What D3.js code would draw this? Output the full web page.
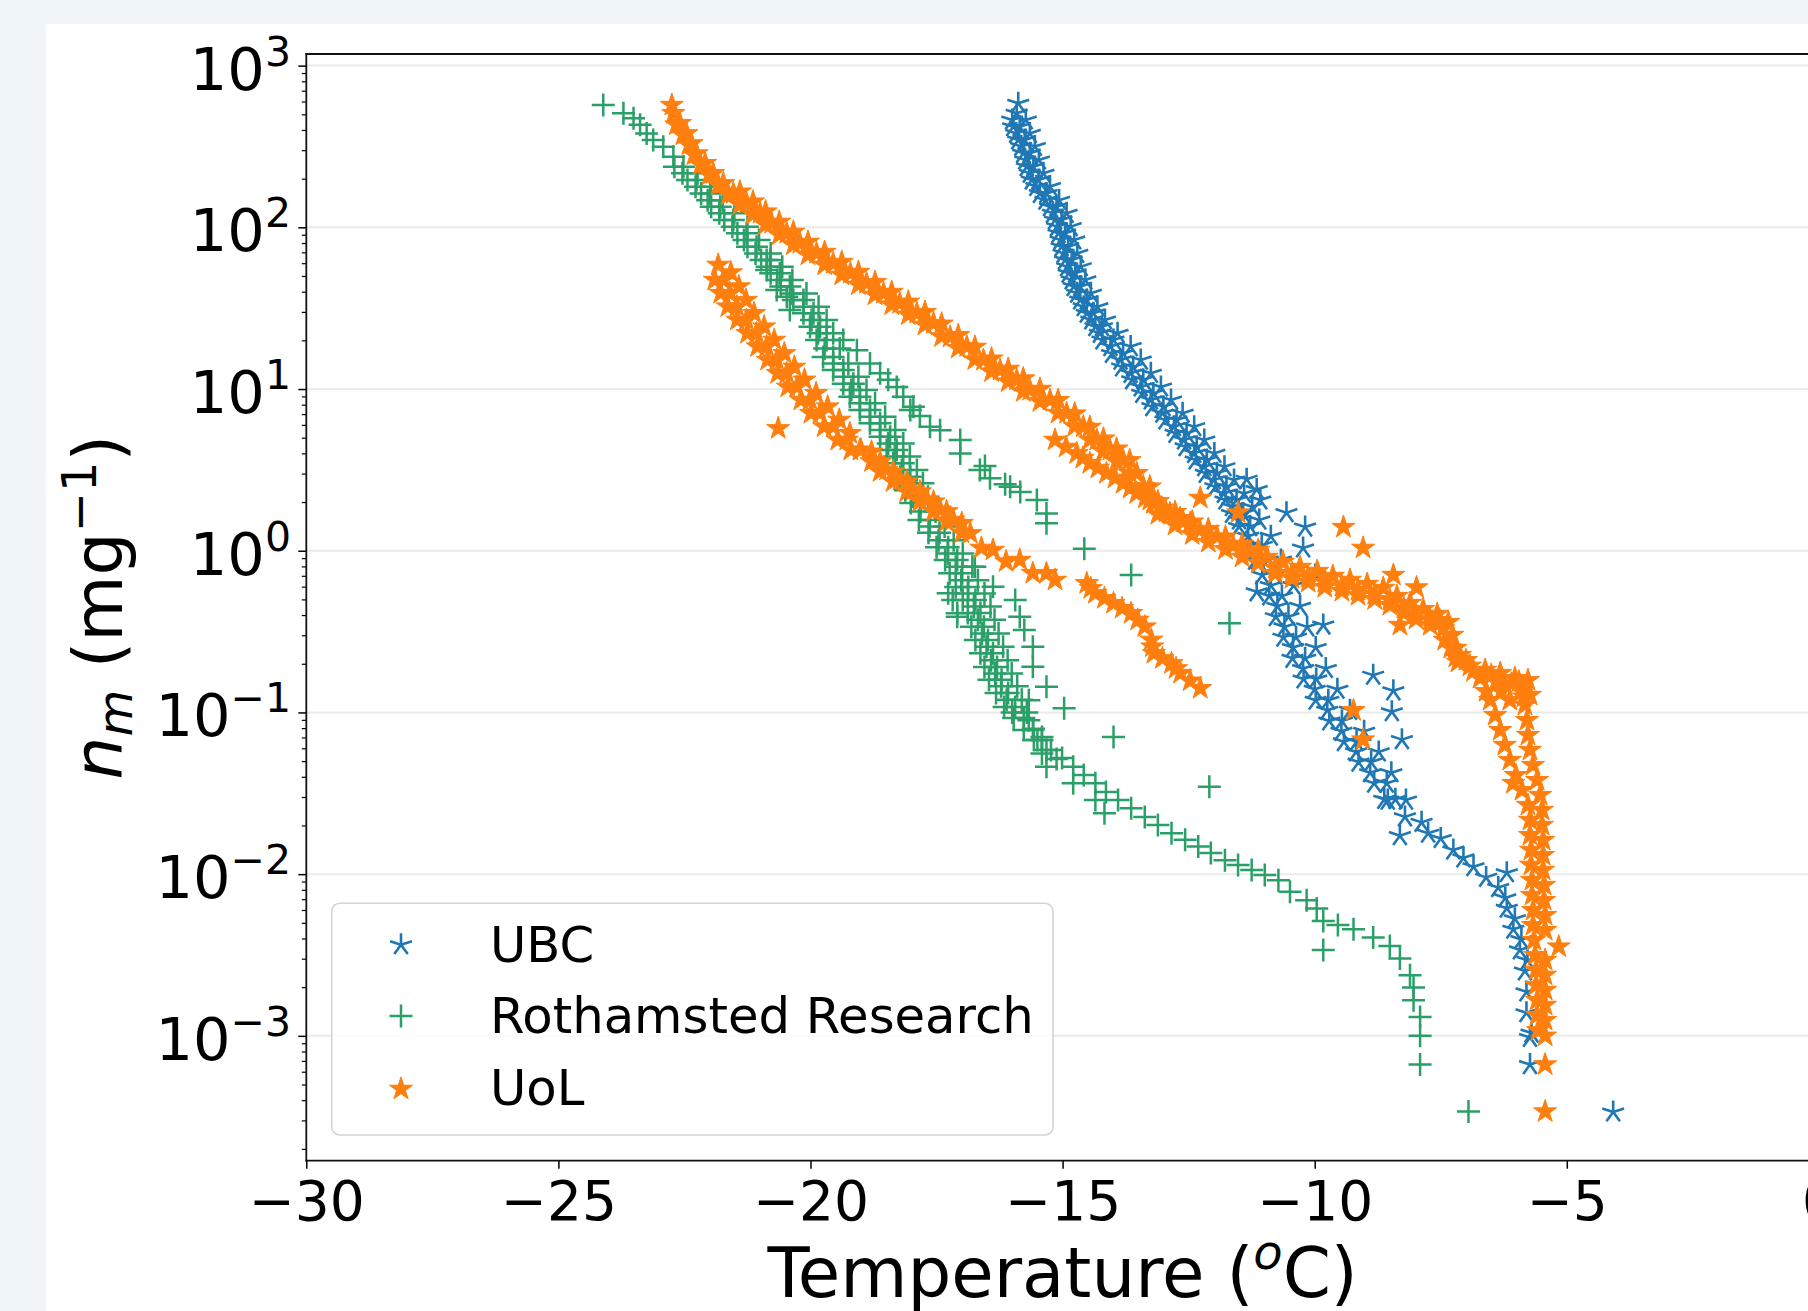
<!DOCTYPE html>
<html>
<head>
<meta charset="utf-8">
<script src="https://cdn.jsdelivr.net/npm/d3@7"></script>
<style>
  html, body { margin: 0; padding: 0; background: #f0f5fa; }
  svg { display: block; }
  text { font-family: "DejaVu Sans", sans-serif; fill: #000; }
</style>
</head>
<body>
<svg id="chart" width="1808" height="1311"></svg>
<script>
// ---- data: [temperature (C), n_m (mg^-1)] ----

// UBC
const ubcRunA = [[-15.88,585],[-15.91,507],[-15.85,419],[-15.75,347],[-15.65,287],[-15.58,237],[-15.48,196],[-15.32,162],[-15.12,134],[-15.02,111],[-14.95,91.8],[-14.89,75.9],[-14.82,62.8],[-14.75,52.0],[-14.65,43.0],[-14.52,35.5],[-14.39,29.4],[-14.22,24.3],[-13.99,20.1],[-13.80,16.6],[-13.60,13.7],[-13.40,11.4],[-13.20,9.40],[-13.00,7.78],[-12.74,6.43],[-12.54,5.32],[-12.34,4.40],[-12.14,3.64],[-11.94,3.01],[-11.75,2.49],[-11.55,2.06],[-11.42,1.70],[-11.28,1.41],[-11.05,1.08],[-10.93,0.875],[-10.79,0.708],[-10.65,0.525],[-10.52,0.391],[-10.37,0.292],[-10.19,0.216],[-9.97,0.161],[-9.73,0.119],[-9.46,0.0885],[-9.17,0.0659],[-8.88,0.0493],[-8.57,0.0365],[-8.40,0.0290],[-8.21,0.0226],[-7.75,0.0179],[-7.25,0.0141],[-6.85,0.0111],[-6.36,0.00826],[-6.19,0.00615],[-6.06,0.00456],[-5.93,0.00340],[-5.83,0.00252],[-5.80,0.00187],[-5.80,0.00139],[-5.70,0.00104],[-5.73,0.000664]];
const ubcRunB = [[-15.73,461],[-15.65,381],[-15.55,316],[-15.47,261],[-15.38,216],[-15.25,179],[-15.07,147],[-14.92,122],[-14.84,101],[-14.77,83.5],[-14.71,69.0],[-14.64,57.1],[-14.55,47.3],[-14.44,39.1],[-14.31,32.3],[-14.16,26.7],[-13.91,22.1],[-13.65,18.3],[-13.45,15.1],[-13.25,12.5],[-13.05,10.3],[-12.85,8.55],[-12.62,7.08],[-12.39,5.85],[-12.19,4.84],[-11.99,4.00],[-11.79,3.31],[-11.60,2.74],[-11.40,2.26],[-11.24,1.87],[-11.10,1.55],[-10.87,1.23],[-10.67,0.875],[-10.42,0.610],[-10.29,0.453],[-10.15,0.338],[-9.98,0.252],[-9.78,0.187],[-9.55,0.139],[-9.30,0.103],[-9.02,0.0764],[-8.73,0.0570],[-8.48,0.0424],[-8.19,0.0287],[-7.88,0.0209],[-7.50,0.0166],[-7.05,0.0126],[-6.60,0.00955],[-6.22,0.00713],[-6.03,0.00530],[-5.90,0.00394],[-5.78,0.00293]];
const ubcRunC = [[-15.98,419],[-15.88,347],[-15.78,287],[-15.71,237],[-15.61,196],[-15.45,162],[-15.25,134],[-15.15,111],[-15.08,91.8],[-15.02,75.9],[-14.95,62.8],[-14.88,52.0],[-14.78,43.0],[-14.65,35.5],[-14.52,29.4],[-14.35,24.3],[-14.21,20.1],[-14.02,16.6],[-13.82,13.7],[-13.62,11.4],[-13.42,9.40],[-13.22,7.78],[-12.96,6.43],[-12.76,5.32],[-12.56,4.40],[-12.36,3.64],[-12.16,3.01],[-11.97,2.49],[-11.77,2.06],[-11.64,1.70],[-11.50,1.41],[-11.30,1.08],[-11.18,0.875],[-11.04,0.708],[-10.90,0.525],[-10.77,0.391],[-10.62,0.292],[-10.44,0.216],[-10.22,0.161],[-9.98,0.119],[-9.71,0.0885],[-9.42,0.0659],[-9.13,0.0493],[-8.82,0.0365],[-8.62,0.0290]];
const ubcRunD = [[-16.00,461],[-15.92,381],[-15.82,316],[-15.74,261],[-15.65,216],[-15.52,179],[-15.34,147],[-15.19,122],[-15.11,101],[-15.04,83.5],[-14.98,69.0],[-14.91,57.1],[-14.82,47.3],[-14.71,39.1],[-14.58,32.3],[-14.43,26.7],[-14.26,22.1],[-14.05,18.3],[-13.85,15.1],[-13.65,12.5],[-13.45,10.3],[-13.25,8.55],[-13.02,7.08],[-12.79,5.85],[-12.59,4.84],[-12.39,4.00],[-12.19,3.31],[-12.00,2.74],[-11.80,2.26],[-11.64,1.87],[-11.50,1.55],[-11.32,1.23],[-11.12,0.875],[-10.87,0.610],[-10.74,0.453],[-10.60,0.338],[-10.43,0.252],[-10.23,0.187],[-10.00,0.139],[-9.75,0.103],[-9.47,0.0764],[-9.18,0.0570],[-8.90,0.0424],[-8.55,0.0287]];
const ubcScatter = [[-11.35,2.77],[-11.15,2.39],[-11.08,2.06],[-10.56,1.72],[-10.19,1.40],[-10.23,1.04],[-9.99,0.707],[-11.15,0.557],[-9.83,0.347],[-8.84,0.170],[-8.44,0.136],[-8.47,0.101],[-8.27,0.0679],[-8.31,0.0173],[-6.19,0.0102],[-5.73,0.000976],[-4.08,0.000338]];

// Rothamsted Research
const rothRunA = [[-24.11,570],[-23.71,507],[-23.51,472],[-23.38,431],[-23.25,381],[-23.12,347],[-22.92,315],[-22.72,273],[-22.52,237],[-22.26,196],[-21.99,162],[-21.79,134],[-21.53,111],[-21.27,91.8],[-21.07,75.9],[-20.80,62.8],[-20.61,52.0],[-20.41,43.0],[-20.14,35.5],[-19.94,29.4],[-19.81,24.3],[-19.68,20.1],[-19.55,15.8],[-19.35,13.1],[-19.15,10.8],[-19.02,8.97],[-18.82,7.43],[-18.62,6.14],[-18.42,5.07],[-18.29,4.20],[-18.16,3.47],[-18.02,2.87],[-17.92,2.37],[-17.81,1.97],[-17.63,1.55],[-17.44,1.29],[-17.27,1.05],[-17.09,0.876],[-16.99,0.725],[-16.87,0.597],[-16.73,0.496],[-16.63,0.412],[-16.56,0.339],[-16.48,0.281],[-16.38,0.232],[-16.30,0.191],[-16.21,0.159],[-16.08,0.132],[-15.94,0.108],[-15.77,0.0923],[-15.59,0.0778],[-15.41,0.0675],[-15.23,0.0585],[-15.01,0.0522],[-14.79,0.0461],[-14.58,0.0410],[-14.35,0.0365],[-14.14,0.0322],[-13.90,0.0287],[-13.64,0.0256],[-13.37,0.0226],[-13.11,0.0201],[-12.84,0.0179],[-12.57,0.0163],[-12.31,0.0148],[-12.06,0.0135],[-11.78,0.0122],[-11.52,0.0114],[-11.25,0.0106],[-10.99,0.00987],[-10.72,0.00918],[-10.49,0.00778],[-10.16,0.00690],[-9.96,0.00614],[-9.83,0.00514],[-9.54,0.00484],[-9.23,0.00456],[-8.84,0.00405],[-8.51,0.00360],[-8.31,0.00301],[-8.11,0.00237],[-8.04,0.00199],[-8.04,0.00166],[-7.91,0.00131],[-7.91,0.00100],[-7.91,0.000664]];
const rothRunA2 = [[-22.24,216],[-21.98,178],[-21.74,147],[-21.51,122],[-21.25,101],[-21.02,83.5],[-20.79,69.0],[-20.56,57.1],[-20.36,47.3],[-20.08,39.0],[-19.84,32.3],[-19.68,26.7],[-19.55,22.1],[-19.42,17.8],[-19.25,14.4],[-19.05,11.9],[-18.89,9.86],[-18.72,8.17],[-18.52,6.75],[-18.32,5.58],[-18.16,4.61],[-18.03,3.82],[-17.89,3.16],[-17.77,2.61],[-17.67,2.16],[-17.52,1.75],[-17.34,1.41],[-17.16,1.16],[-16.98,0.960],[-16.79,0.796],[-16.68,0.658],[-16.55,0.544],[-16.43,0.452],[-16.35,0.374],[-16.27,0.308],[-16.18,0.255],[-16.09,0.210],[-16.01,0.174],[-15.90,0.145],[-15.81,0.120],[-15.71,0.100],[-15.58,0.0794],[-15.50,0.0676],[-15.32,0.0586],[-15.12,0.0516]];
const rothRunA3 = [[-22.70,237],[-22.44,196],[-22.17,162],[-21.97,134],[-21.71,111],[-21.45,91.8],[-21.25,75.9],[-20.98,62.8],[-20.79,52.0],[-20.59,43.0],[-20.34,35.5],[-20.14,29.4],[-20.01,24.3],[-19.88,20.1],[-19.75,15.8],[-19.55,13.1],[-19.35,10.8],[-19.22,8.97],[-19.02,7.43],[-18.82,6.14],[-18.62,5.07],[-18.49,4.20],[-18.36,3.47],[-18.22,2.87],[-18.12,2.37],[-18.01,1.97],[-17.85,1.55],[-17.66,1.29],[-17.50,1.05],[-17.33,0.876],[-17.24,0.725],[-17.12,0.597],[-16.98,0.496],[-16.88,0.412],[-16.81,0.339],[-16.73,0.281],[-16.63,0.232],[-16.55,0.191],[-16.46,0.159],[-16.32,0.132],[-16.16,0.108],[-15.97,0.0923],[-15.77,0.0778],[-15.57,0.0675]];
const rothRunA4 = [[-22.54,216],[-22.28,178],[-22.04,147],[-21.81,122],[-21.55,101],[-21.32,83.5],[-21.09,69.0],[-20.86,57.1],[-20.66,47.3],[-20.38,39.0],[-20.14,32.3],[-19.98,26.7],[-19.85,22.1],[-19.72,17.8],[-19.55,14.4],[-19.35,11.9],[-19.19,9.86],[-19.02,8.17],[-18.82,6.75],[-18.62,5.58],[-18.46,4.61],[-18.33,3.82],[-18.19,3.16],[-18.07,2.61],[-17.97,2.16],[-17.82,1.75],[-17.64,1.41],[-17.46,1.16],[-17.28,0.960],[-17.12,0.796],[-17.01,0.658],[-16.88,0.544],[-16.76,0.452],[-16.68,0.374],[-16.60,0.308],[-16.51,0.255],[-16.42,0.210],[-16.34,0.174],[-16.22,0.145],[-16.11,0.120],[-16.00,0.100]];
const rothRunB = [[-20.87,62.7],[-20.87,54.4],[-20.67,40.9],[-20.47,37.2],[-20.41,30.8],[-19.35,20.1],[-19.08,17.4],[-18.82,14.4],[-18.62,12.5],[-18.46,11.4],[-18.29,10.3],[-18.16,8.96],[-17.96,7.78],[-18.02,7.41],[-17.83,6.81],[-17.63,5.85],[-17.43,5.57],[-17.03,4.84],[-17.03,4.00],[-16.64,3.16],[-16.54,3.34],[-16.44,2.81],[-16.14,2.58],[-16.04,2.49],[-15.84,2.31],[-15.51,2.06],[-15.32,1.70],[-15.32,1.48],[-14.57,1.03],[-13.64,0.707],[-11.69,0.356]];
const rothRunC = [[-17.27,0.546],[-17.18,0.496],[-17.09,0.410],[-17.09,0.391],[-16.74,0.796],[-16.38,0.599],[-15.94,0.496],[-15.85,0.391],[-15.76,0.324],[-15.59,0.255],[-15.59,0.192],[-15.32,0.144],[-14.97,0.106],[-15.67,0.119],[-15.67,0.0895],[-15.41,0.0706],[-15.41,0.0557],[-15.32,0.0461],[-14.79,0.0365],[-14.35,0.0287],[-14.17,0.0238]];
const rothScatter = [[-13.99,0.0706],[-12.09,0.0347],[-9.83,0.00339],[-6.95,0.000340]];

// UoL
const uolRun1 = [[-22.75,570],[-22.72,507],[-22.59,440],[-22.46,381],[-22.36,330],[-22.26,286],[-22.09,249],[-21.93,216],[-21.73,187],[-21.53,162],[-21.27,141],[-21.00,122],[-20.77,106],[-20.47,91.8],[-20.21,79.6],[-19.88,69.0],[-19.55,59.8],[-19.21,51.9],[-18.89,45.0],[-18.55,39.1],[-18.23,33.9],[-17.89,29.4],[-17.56,25.5],[-17.23,21.0],[-16.90,18.3],[-16.57,15.1],[-16.24,13.1],[-15.91,11.4],[-15.65,9.85],[-15.25,8.55],[-14.92,7.08],[-14.59,5.85],[-14.32,4.84],[-14.06,4.20],[-13.80,3.64],[-13.53,3.01],[-13.27,2.49],[-13.27,2.06],[-12.95,1.74],[-12.61,1.51],[-12.28,1.34],[-11.94,1.22],[-11.62,1.08],[-11.28,0.982],[-10.95,0.914],[-10.63,0.851],[-10.29,0.793],[-9.95,0.748],[-9.64,0.697],[-9.30,0.659],[-8.96,0.622],[-8.64,0.588],[-8.37,0.524],[-8.11,0.474],[-7.85,0.435],[-7.57,0.406],[-7.35,0.362],[-7.27,0.301],[-7.21,0.250],[-7.16,0.205],[-6.92,0.194],[-6.62,0.183],[-6.32,0.175],[-6.03,0.163],[-5.89,0.138]];
const uolRun1B = [[-22.66,431],[-22.53,373],[-22.41,324],[-22.31,281],[-22.18,244],[-22.01,211],[-21.83,183],[-21.63,159],[-21.40,138],[-21.14,120],[-20.89,104],[-20.62,89.9],[-20.34,78.0],[-20.05,67.6],[-19.72,58.6],[-19.38,50.8],[-19.05,44.1],[-18.72,38.2],[-18.39,33.2],[-18.06,28.8],[-17.73,24.9],[-17.40,21.1],[-17.07,17.9],[-16.74,15.2],[-16.41,12.8],[-16.08,11.1],[-15.78,9.65],[-15.45,8.37],[-15.09,7.10],[-14.76,5.87],[-14.46,4.85],[-14.19,4.11],[-13.93,3.56],[-13.67,3.02],[-13.40,2.50],[-13.11,1.68],[-12.77,1.44],[-12.43,1.26],[-12.11,1.13],[-11.77,1.02],[-11.44,0.914],[-11.12,0.838],[-10.78,0.780],[-10.45,0.726],[-10.13,0.687],[-9.80,0.640],[-9.46,0.604],[-9.14,0.570],[-8.81,0.538],[-8.51,0.495],[-8.23,0.442],[-7.99,0.406],[-7.71,0.372]];
const uolRun1C = [[-21.40,166],[-21.14,144],[-20.89,125],[-20.62,108],[-20.34,93.6],[-20.05,81.1],[-19.72,70.3],[-19.38,61.0],[-19.05,52.9],[-18.72,45.8],[-18.39,39.8],[-18.06,34.6],[-17.73,29.9],[-17.40,25.3],[-17.07,21.5],[-16.74,18.2],[-16.41,15.4],[-16.08,13.3],[-15.78,11.6],[-15.45,10.0],[-15.09,8.52],[-14.76,7.04],[-14.46,5.82],[-14.19,4.93],[-13.93,4.27],[-13.67,3.62],[-13.11,2.02],[-12.77,1.73],[-12.43,1.51],[-12.11,1.36],[-11.77,1.22],[-11.44,1.10],[-11.12,1.01],[-10.78,0.725],[-10.45,0.675],[-10.13,0.639],[-9.80,0.595],[-9.46,0.562],[-9.14,0.530],[-8.81,0.500],[-8.51,0.460],[-8.23,0.411],[-7.99,0.378],[-7.71,0.346]];
const uolStep = [[-7.52,0.372],[-7.45,0.330],[-7.42,0.280],[-7.30,0.250],[-7.20,0.220],[-7.12,0.226],[-7.00,0.210],[-6.85,0.180],[-6.72,0.163],[-6.60,0.135],[-6.50,0.170],[-6.40,0.155],[-6.30,0.135],[-6.23,0.148],[-6.10,0.150],[-5.95,0.155],[-5.85,0.125],[-5.77,0.158],[-5.73,0.128],[-6.13,0.119]];
const uolColumnL = [[-6.52,0.119],[-6.42,0.0962],[-6.32,0.0776],[-6.23,0.0628],[-6.13,0.0507],[-6.01,0.0409],[-5.89,0.0330],[-5.77,0.0267],[-5.73,0.0216],[-5.73,0.0174],[-5.71,0.0141],[-5.71,0.0114],[-5.69,0.00918],[-5.69,0.00741],[-5.67,0.00598],[-5.67,0.00483],[-5.65,0.00390],[-5.63,0.00315],[-5.61,0.00255],[-5.61,0.00206],[-5.59,0.00166],[-5.59,0.00134],[-5.57,0.00108]];
const uolColumnR = [[-5.83,0.111],[-5.79,0.0895],[-5.77,0.0724],[-5.73,0.0585],[-5.67,0.0472],[-5.59,0.0381],[-5.53,0.0308],[-5.49,0.0249],[-5.49,0.0201],[-5.47,0.0162],[-5.47,0.0131],[-5.47,0.0106],[-5.45,0.00855],[-5.45,0.00690],[-5.43,0.00557],[-5.43,0.00450],[-5.16,0.00356],[-5.43,0.00294],[-5.43,0.00238],[-5.43,0.00192],[-5.43,0.00155],[-5.43,0.00125],[-5.43,0.00100],[-5.43,0.000664],[-5.43,0.000340]];
const uolRun2 = [[-21.83,58.5],[-21.73,47.2],[-21.60,39.1],[-21.46,32.3],[-21.27,26.7],[-21.07,22.1],[-20.87,18.3],[-20.67,15.1],[-20.47,12.5],[-20.27,10.3],[-20.01,8.55],[-19.81,7.08],[-19.55,5.85],[-19.28,4.84],[-19.02,4.20],[-18.75,3.64],[-18.49,3.16],[-18.22,2.74],[-17.96,2.37],[-17.69,2.06],[-17.43,1.79],[-17.17,1.55],[-16.83,1.28],[-16.38,1.01],[-15.85,0.876],[-15.32,0.725],[-15.15,0.659],[-14.52,0.628],[-14.35,0.545],[-13.99,0.473],[-13.64,0.410],[-13.37,0.339],[-13.24,0.281],[-13.19,0.232],[-12.84,0.201],[-12.66,0.175],[-12.27,0.141]];
const uolRun2B = [[-21.58,52.5],[-21.42,43.0],[-21.28,35.5],[-21.12,29.4],[-20.92,24.3],[-20.72,20.1],[-20.52,16.6],[-20.32,13.7],[-20.12,11.4],[-19.89,9.41],[-19.66,7.78],[-19.43,6.44],[-19.22,5.32],[-19.00,4.21],[-18.79,3.56],[-18.62,3.09],[-18.36,2.68],[-18.09,2.32],[-17.83,2.02],[-17.56,1.75],[-17.30,1.52],[-17.00,1.29],[-16.61,1.04],[-16.12,0.857],[-15.59,0.726],[-14.44,0.585],[-14.17,0.508],[-13.82,0.441],[-13.51,0.373],[-13.22,0.255],[-13.02,0.216],[-12.75,0.187],[-12.47,0.157]];
const uolRun2C = [[-21.90,47.2],[-21.78,39.1],[-21.64,32.3],[-21.45,26.7],[-21.25,22.1],[-21.05,18.3],[-20.85,15.1],[-20.65,12.5],[-20.45,10.3],[-20.19,8.55],[-19.99,7.08],[-19.73,5.85],[-19.46,4.84],[-19.20,4.20],[-18.79,4.09],[-18.62,3.55],[-18.36,3.08],[-18.09,2.67],[-17.83,2.32],[-17.56,2.01],[-17.30,1.75],[-17.00,1.48]];
const uolRun3 = [[-15.15,4.84],[-14.93,4.38],[-14.72,4.00],[-14.60,3.74],[-14.46,3.47],[-14.30,3.25],[-14.13,3.01],[-13.96,2.82],[-13.80,2.61],[-13.66,2.44],[-13.53,2.26],[-13.36,2.12],[-13.20,1.96],[-13.03,1.84],[-12.87,1.70],[-12.67,1.59],[-12.47,1.48]];
const uolScatter = [[-20.64,5.71],[-12.27,2.12],[-11.52,1.72],[-9.43,1.40],[-9.04,1.04],[-8.44,0.707],[-7.98,0.592],[-8.31,0.347],[-9.23,0.103],[-9.04,0.0679],[-6.06,0.0365]];

// axes / legend text
const xTicks = [-30, -25, -20, -15, -10, -5, 0];
const yExponents = [-3, -2, -1, 0, 1, 2, 3];
const seriesNames = ["UBC", "Rothamsted Research", "UoL"];

// ---- layout ----
const W = 1808, H = 1311;
const plot = {left: 306.3, right: 1818.9, top: 54, bottom: 1160.7};
const colors = {ubc: "#1f77b4", roth: "#2b9f68", uol: "#ff7f0e"};

const svg = d3.select("#chart");

// white card
svg.append("rect").attr("x", 46).attr("y", 24)
	.attr("width", W - 46).attr("height", H - 24).attr("fill", "#ffffff");

const x = d3.scaleLinear().domain([-30, 0]).range([plot.left, plot.right]);
const y = d3.scaleLog().domain([1.69e-4, 1180]).range([plot.bottom, plot.top]);

// horizontal grid at decades
svg.append("g").selectAll("line")
	.data(yExponents)
	.enter().append("line")
	.attr("x1", plot.left).attr("x2", plot.right)
	.attr("y1", d => y(Math.pow(10, d))).attr("y2", d => y(Math.pow(10, d)))
	.attr("stroke", "#ebebeb").attr("stroke-width", 2);

// minor log ticks
var minorVals = []
for (var e = -4; e <= 2; e++) {
	for (var k = 2; k <= 9; k++) {
		var v = k * Math.pow(10, e)
		if (v >= y.domain()[0] && v <= y.domain()[1]) minorVals.push(v)
	}
}
var gMinor = svg.append("g").attr("transform", "translate(" + plot.left + ",0)")
	.call(d3.axisLeft(y).tickValues(minorVals).tickSize(4.5).tickFormat(""))
gMinor.select(".domain").remove()
gMinor.selectAll("line").attr("stroke", "#000").attr("stroke-width", 1.2)

var gMajor = svg.append("g").attr("transform", "translate(" + plot.left + ",0)")
	.call(d3.axisLeft(y).tickValues(yExponents.map(d => Math.pow(10, d))).tickSize(8).tickFormat(""))
gMajor.select(".domain").remove()
gMajor.selectAll("line").attr("stroke", "#000").attr("stroke-width", 1.5)

// y tick labels 10^n
yExponents.forEach(function(ex) {
	var ty = y(Math.pow(10, ex))
	var t = svg.append("text").attr("x", 291).attr("y", ty + 24)
		.attr("text-anchor", "end").attr("font-size", 59)
	t.append("tspan").text("10")
	t.append("tspan").attr("dy", -24).attr("font-size", 41)
		.text(ex < 0 ? "\u2212" + (-ex) : String(ex))
})

// x axis
var gx = svg.append("g").attr("transform", "translate(0," + plot.bottom + ")")
	.call(d3.axisBottom(x).tickValues(xTicks).tickSize(8).tickPadding(12)
		.tickFormat(d => d < 0 ? "\u2212" + (-d) : String(d)))
gx.select(".domain").remove()
gx.selectAll("line").attr("stroke", "#000").attr("stroke-width", 1.5)
gx.selectAll("text").attr("font-size", 55).attr("font-family", "DejaVu Sans").attr("fill", "#000")

// spines
var spines = [
	[plot.left, plot.top, plot.right, plot.top],
	[plot.left, plot.bottom, plot.right, plot.bottom],
	[plot.left, plot.top, plot.left, plot.bottom],
	[plot.right, plot.top, plot.right, plot.bottom]
]
svg.append("g").selectAll("line").data(spines).enter().append("line")
	.attr("x1", d => d[0]).attr("y1", d => d[1]).attr("x2", d => d[2]).attr("y2", d => d[3])
	.attr("stroke", "#111").attr("stroke-width", 1.8).attr("stroke-linecap", "square")

// marker shapes
var asteriskPath = ""
for (var i = 0; i < 5; i++) {
	var a = (-90 + 72 * i) * Math.PI / 180
	asteriskPath += "M0,0L" + (11.5 * Math.cos(a)).toFixed(2) + "," + (11.5 * Math.sin(a)).toFixed(2)
}
var plusPath = "M-11.5,0H11.5M0,-11.5V11.5"
var starPath = d3.symbol(d3.symbolStar, 165)()

var markerStyle = {
	ubc: {d: asteriskPath, fill: "none", stroke: colors.ubc, sw: 2.6},
	roth: {d: plusPath, fill: "none", stroke: colors.roth, sw: 2.5},
	uol: {d: starPath, fill: colors.uol, stroke: colors.uol, sw: 1}
}

var series = [
	{key: "ubc", points: [].concat(ubcRunA, ubcRunB, ubcRunC, ubcRunD, ubcScatter)},
	{key: "roth", points: [].concat(rothRunA, rothRunA2, rothRunA3, rothRunA4, rothRunB, rothRunC, rothScatter)},
	{key: "uol", points: [].concat(uolRun1, uolRun1B, uolRun1C, uolStep, uolColumnL, uolColumnR, uolRun2, uolRun2B, uolRun2C, uolRun3, uolScatter)}
]

series.forEach(function(s) {
	var st = markerStyle[s.key]
	svg.append("g").selectAll("path")
		.data(s.points)
		.enter().append("path")
		.attr("d", st.d)
		.attr("transform", d => "translate(" + x(d[0]).toFixed(2) + "," + y(d[1]).toFixed(2) + ")")
		.attr("fill", st.fill)
		.attr("stroke", st.stroke)
		.attr("stroke-width", st.sw)
		.attr("stroke-linejoin", "round")
})

// legend
var legend = svg.append("g")
legend.append("rect").attr("x", 331.7).attr("y", 903.3).attr("width", 721.3).attr("height", 231.7)
	.attr("rx", 8).attr("fill", "#ffffff").attr("fill-opacity", 0.8)
	.attr("stroke", "#d4d4d4").attr("stroke-width", 1.6)
var legendRows = [
	{key: "ubc", my: 944.7, ty: 962},
	{key: "roth", my: 1016, ty: 1033},
	{key: "uol", my: 1089, ty: 1105}
]
legendRows.forEach(function(r, i) {
	var st = markerStyle[r.key]
	legend.append("path").attr("d", st.d)
		.attr("transform", "translate(401," + r.my + ")")
		.attr("fill", st.fill).attr("stroke", st.stroke).attr("stroke-width", st.sw)
	legend.append("text").attr("x", 490).attr("y", r.ty).attr("font-size", 49.7).text(seriesNames[i])
})

// axis titles
var xt = svg.append("text").attr("x", (plot.left + plot.right) / 2).attr("y", 1297)
	.attr("text-anchor", "middle").attr("font-size", 69)
xt.append("tspan").text("Temperature (")
xt.append("tspan").attr("font-style", "italic").attr("font-size", 48).attr("dy", -28).text("o")
xt.append("tspan").attr("dy", 28).text("C)")

var yt = svg.append("text")
	.attr("transform", "translate(122," + ((plot.top + plot.bottom) / 2) + ") rotate(-90)")
	.attr("text-anchor", "middle").attr("font-size", 68)
yt.append("tspan").attr("font-style", "italic").text("n")
yt.append("tspan").attr("font-style", "italic").attr("font-size", 48).attr("dy", 10).text("m")
yt.append("tspan").attr("dy", -10).text(" (mg")
yt.append("tspan").attr("font-size", 48).attr("dy", -26).text("\u22121")
yt.append("tspan").attr("dy", 26).text(")")
</script>
</body>
</html>
